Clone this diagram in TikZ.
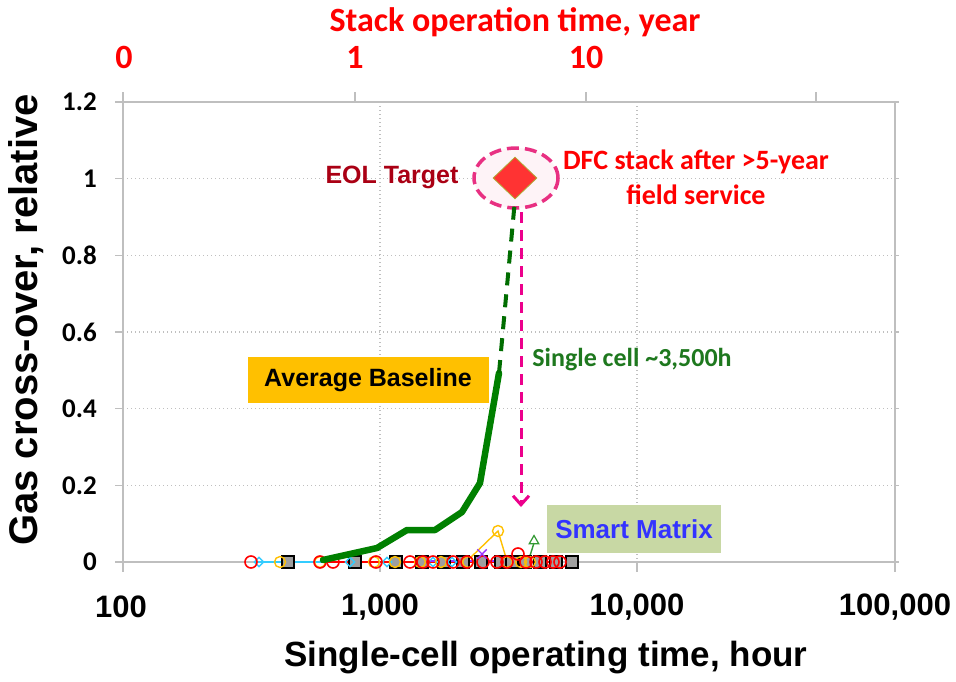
\documentclass[tikz,border=0pt]{standalone}
\usepackage{fontspec}
\setmainfont{Liberation Sans}
\newfontfamily\calibfont{Carlito}
\usetikzlibrary{arrows.meta, positioning, shapes.geometric, shapes.misc}
\definecolor{axgray}{RGB}{191, 191, 191}
\definecolor{basegreen}{RGB}{0, 128, 0}
\definecolor{annogreen}{RGB}{30, 120, 30}
\definecolor{eolred}{RGB}{170, 0, 20}
\definecolor{dfcred}{RGB}{255, 0, 0}
\definecolor{ringpink}{RGB}{232, 48, 130}
\definecolor{baseorange}{RGB}{255, 192, 0}
\definecolor{smartgreen}{RGB}{200, 216, 164}
\definecolor{smartblue}{RGB}{51, 51, 255}
\definecolor{sercyan}{RGB}{51, 204, 255}
\definecolor{seryellow}{RGB}{255, 192, 0}
\definecolor{serpurple}{RGB}{153, 51, 255}

\begin{document}
\begin{tikzpicture}[x=1pt, y=-1pt,
        axln/.style={draw=axgray, line width=1.3pt},
        gridln/.style={draw=axgray, line width=1.3pt, dash pattern=on 1.3pt off 2.7pt},
        ylab/.style={font=\calibfont\bfseries\fontsize{27}{27}\selectfont, anchor=east, inner sep=0pt},
        xlab/.style={font=\bfseries\fontsize{31}{31}\selectfont, inner sep=0pt},
        toplab/.style={font=\calibfont\bfseries\fontsize{34}{34}\selectfont, text=dfcred, inner sep=0pt},
        axtitle/.style={font=\bfseries\fontsize{35}{35}\selectfont, inner sep=0pt},
        basebox/.style={fill=baseorange, minimum width=241pt, minimum height=46pt, font=\bfseries\fontsize{25}{25}\selectfont},
        smartbox/.style={fill=smartgreen, text=smartblue, minimum width=174pt, minimum height=48pt, font=\bfseries\fontsize{26}{26}\selectfont},
        rcirc/.style={circle, draw=red, line width=1.6pt, minimum size=12pt, inner sep=0pt},
        ycirc/.style={circle, draw=seryellow, line width=1.4pt, minimum size=11pt, inner sep=0pt},
        cdiam/.style={diamond, draw=sercyan, line width=1.4pt, minimum size=10pt, inner sep=0pt},
        gsq/.style={rectangle, draw=black, fill=gray!75, line width=1.6pt, minimum size=12pt, inner sep=0pt},
        pcross/.style={cross out, draw=serpurple, line width=1.4pt, minimum size=8pt, inner sep=0pt},
        gtri/.style={regular polygon, regular polygon sides=3, draw=basegreen!80, line width=1.2pt, minimum size=11pt, inner sep=0pt},
        basecurve/.style={draw=basegreen, line width=6.5pt, line join=round, line cap=round},
        basedash/.style={draw=basegreen!85!black, line width=4pt, dash pattern=on 13pt off 9pt},
        magarrow/.style={draw=magenta, line width=3pt, dash pattern=on 11pt off 7pt, -{Straight Barb[length=9pt, width=16pt]}}
      ]
        \fill[white] (0,0) rectangle (956,681);
        \useasboundingbox (0,0) rectangle (956,681);
        \foreach \v in {0.2,0.4,0.6,0.8,1} { \draw[gridln] (123,{562-383.33*\v}) -- (895,{562-383.33*\v}); }
        \foreach \p in {380,637} { \draw[gridln] (\p,102) -- (\p,562); }
        \draw[axln] (115,102) -- (899,102);
        \draw[axln] (115,562) -- (899,562);
        \draw[axln] (123,92) -- (123,572);
        \draw[axln] (895,102) -- (895,572);
        \foreach \v in {0.2,0.4,0.6,0.8,1} { \draw[axln] (115,{562-383.33*\v}) -- (123,{562-383.33*\v}); \draw[axln] (895,{562-383.33*\v}) -- (899,{562-383.33*\v}); }
        \foreach \p in {380,637} { \draw[axln] (\p,562) -- (\p,572); }
        \foreach \p in {355,586,816} { \draw[axln] (\p,92) -- (\p,102); }
        \foreach \v/\t [count=\k] in {0/0,0.2/0.2,0.4/0.4,0.6/0.6,0.8/0.8,1/1,1.2/1.2} { \node[ylab] (yl\k) at (97,{562-383.33*\v}) {\t}; }
        \foreach \p/\t [count=\k] in {121/100,380/{1,000},637/{10,000},895/{100,000}} { \node[xlab] (xl\k) at (\p,607) {\t}; }
        \foreach \p/\t [count=\k] in {124/0,355/1,586/10} { \node[toplab] (tl\k) at (\p,57) {\t}; }
        \node[toplab] (toptitle) at (515,22) {Stack operation time, year};
        \node[axtitle] (xtitle) at (546,658) {Single-cell operating time, hour};
        \node[axtitle, font=\bfseries\fontsize{40}{40}\selectfont, rotate=90] (ytitle) at (26,320) {Gas cross-over, relative};
        \draw[draw=sercyan, line width=2pt] (258,562) -- (432,562);
        \draw[draw=red, line width=1.6pt] (327,562) -- (560,562);
        \draw[draw=serpurple, line width=1.4pt] (420,561) -- (500,561);
        \draw[draw=seryellow, line width=1.4pt] (468,560) -- (498,531) -- (507,561);
        \draw[draw=basegreen!80, line width=1.4pt] (528,562) -- (534,543);
        \foreach \p [count=\k] in {288,355,396,422,444,463,481,501,512,525,540,556,572} { \node[gsq] (sq\k) at (\p,562) {}; }
        \foreach \p [count=\k] in {259,350,387,433,452} { \node[cdiam] (cd\k) at (\p,562) {}; }
        \foreach \p [count=\k] in {280,320,374,395,420,441,468,507,521,530} { \node[ycirc] (yc\k) at (\p,562) {}; }
        \node[ycirc] (ycpeak) at (498,531) {};
        \foreach \p [count=\k] in {251,320,333,376,410,423,433,453,467,483,497,507,526,536,545,553,560} { \node[rcirc] (rc\k) at (\p,562) {}; }
        \node[rcirc] (rcpeak) at (518,554) {};
        \node[pcross] (pc1) at (482,554) {};
        \node[gtri] (gt1) at (534,541) {};
        \coordinate (g1) at (323,560);
        \coordinate (g2) at (377,548);
        \coordinate (g3) at (407,530);
        \coordinate (g4) at (435,530);
        \coordinate (g5) at (462,512);
        \coordinate (g6) at (480,483);
        \coordinate (g7) at (499,373);
        \draw[basecurve] (g1) -- (g2) -- (g3) -- (g4) -- (g5) -- (g6) -- (g7);
        \node[ellipse, draw=ringpink, fill=ringpink!6, line width=3.5pt, dash pattern=on 12pt off 6pt, minimum width=84pt, minimum height=60pt] (ring) at (516,178) {};
        \node[diamond, fill=red!80, draw=olive!70, line width=0.8pt, minimum width=44pt, minimum height=42pt, inner sep=0pt] (dfc) at (515,178) {};
        \draw[basedash] (g7) -- (dfc.south);
        \coordinate (arrtop) at (521,212);
        \coordinate (arrbot) at (521,507);
        \draw[magarrow] (arrtop) -- (arrbot);
        \node[font=\bfseries\fontsize{25}{25}\selectfont, text=eolred, inner sep=0pt] (eol) at (392,177) {EOL Target};
        \node[font=\calibfont\bfseries\fontsize{28}{35}\selectfont, text=dfcred, align=center, inner sep=0pt] (dfctxt) at (696,177) {DFC stack after >5-year\\field service};
        \node[font=\calibfont\bfseries\fontsize{26}{26}\selectfont, text=annogreen, inner sep=0pt] (cell) at (632,360) {Single cell \textasciitilde3,500h};
        \node[basebox] (avgbase) at (368,380) {Average Baseline};
        \node[smartbox] (smart) at (634,529) {Smart Matrix};
      \end{tikzpicture}
\end{document}
